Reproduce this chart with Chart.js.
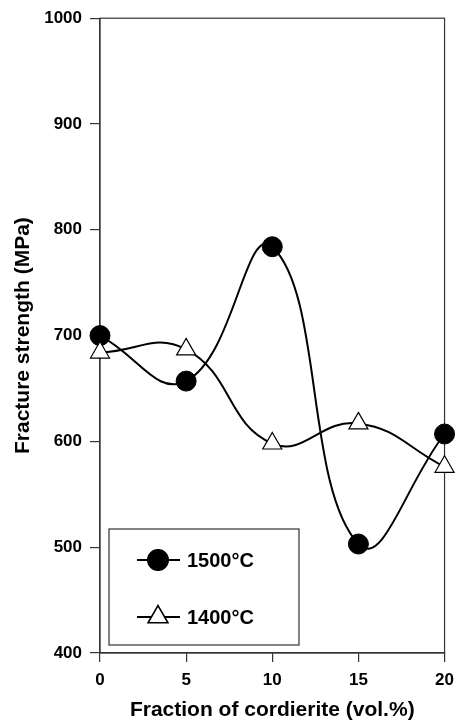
<!DOCTYPE html>
<html lang="en">
<head>
    <meta charset="UTF-8">
    <title>Fracture strength</title>
    <script src="https://cdn.jsdelivr.net/npm/chart.js"></script>
    <style>
        html, body { margin: 0; padding: 0; background: #fff; }
        .chart-container { position: relative; width: 462px; height: 725px; }
    </style>
</head>
<body>
    <div class="chart-container">
        <canvas id="myChart"></canvas>
    </div>

    <script>
        // data
        const fractions = [0, 5, 10, 15, 20];
        const strength1500 = [700, 657, 784, 503, 607];
        const strength1400 = [684, 687, 598, 617, 576];
        const seriesNames = ['1500°C', '1400°C'];

        const toPoints = (ys) => fractions.map((x, i) => ({ x: x, y: ys[i] }));
        const FONT = '"Liberation Sans", Arial, sans-serif';

        // box round the plot area (top and right edges)
        const frame = {
            id: 'frame',
            beforeDatasetsDraw(chart) {
                const { ctx, chartArea: a } = chart;
                ctx.save();
                ctx.strokeStyle = '#333';
                ctx.lineWidth = 1.2;
                ctx.strokeRect(a.left, a.top, a.right - a.left, a.bottom - a.top);
                ctx.restore();
            }
        };

        // legend box inside the plot, lower left
        const boxLegend = {
            id: 'boxLegend',
            afterDraw(chart) {
                const { ctx, chartArea: a } = chart;
                const bx = a.left + 9, by = a.bottom - 124;
                ctx.save();
                ctx.fillStyle = '#fff';
                ctx.fillRect(bx, by, 190, 116);
                ctx.strokeStyle = '#333';
                ctx.lineWidth = 1.2;
                ctx.strokeRect(bx, by, 190, 116);

                const rows = [a.bottom - 93, a.bottom - 36];
                chart.data.datasets.slice().sort((p, q) => q.order - p.order).forEach((ds, i) => {
                    const y = rows[i];
                    ctx.strokeStyle = '#000';
                    ctx.lineWidth = 2;
                    ctx.beginPath();
                    ctx.moveTo(a.left + 37, y);
                    ctx.lineTo(a.left + 80, y);
                    ctx.stroke();
                    Chart.helpers.drawPoint(ctx, {
                        pointStyle: ds.pointStyle,
                        radius: ds.pointRadius,
                        rotation: 0,
                        borderWidth: ds.pointBorderWidth
                    }, a.left + 58, y);
                    ctx.fillStyle = ds.pointBackgroundColor;
                    ctx.strokeStyle = ds.pointBorderColor;
                    ctx.lineWidth = ds.pointBorderWidth;
                    ctx.fill();
                    ctx.stroke();
                    ctx.fillStyle = '#000';
                    ctx.font = 'bold 20px ' + FONT;
                    ctx.textBaseline = 'middle';
                    ctx.textAlign = 'left';
                    ctx.fillText(ds.label, a.left + 87, y + 1);
                });
                ctx.restore();
            }
        };

        const ctx = document.getElementById('myChart').getContext('2d');
        const chart = new Chart(ctx, {
            type: 'line',
            data: {
                datasets: [{
                    label: seriesNames[0],
                    data: toPoints(strength1500),
                    order: 1,
                    borderColor: '#000',
                    borderWidth: 2,
                    tension: 0.45,
                    pointStyle: 'circle',
                    pointRadius: 10,
                    pointBackgroundColor: '#000',
                    pointBorderColor: '#000',
                    pointBorderWidth: 1
                }, {
                    label: seriesNames[1],
                    data: toPoints(strength1400),
                    order: 0,
                    borderColor: '#000',
                    borderWidth: 2,
                    tension: 0.45,
                    pointStyle: 'triangle',
                    pointRadius: 11,
                    pointBackgroundColor: '#fff',
                    pointBorderColor: '#000',
                    pointBorderWidth: 1.2
                }]
            },
            options: {
                responsive: true,
                maintainAspectRatio: false,
                animation: false,
                clip: false,
                layout: { autoPadding: false, padding: { top: 14, right: 13, left: 0, bottom: 0 } },
                plugins: {
                    legend: { display: false },
                    tooltip: { enabled: false }
                },
                scales: {
                    x: {
                        type: 'linear',
                        min: 0,
                        max: 20,
                        afterFit: (s) => { s.height = 72; },
                        ticks: {
                            stepSize: 5,
                            color: '#000',
                            padding: 8,
                            callback: (v) => String(v),
                            font: { family: FONT, size: 17, weight: 'bold' }
                        },
                        grid: { drawOnChartArea: false, tickLength: 9, color: '#333', lineWidth: 1.2 },
                        border: { color: '#333', width: 1.2 },
                        title: {
                            display: true,
                            text: 'Fraction of cordierite (vol.%)',
                            color: '#000',
                            padding: { top: 0, bottom: 2 },
                            font: { family: FONT, size: 21, weight: 'bold' }
                        }
                    },
                    y: {
                        min: 400,
                        max: 1000,
                        afterFit: (s) => { s.width = 100; },
                        ticks: {
                            stepSize: 100,
                            color: '#000',
                            padding: 8,
                            callback: (v) => String(v),
                            font: { family: FONT, size: 17, weight: 'bold' }
                        },
                        grid: { drawOnChartArea: false, tickLength: 10, color: '#333', lineWidth: 1.2 },
                        border: { color: '#333', width: 1.2 },
                        title: {
                            display: true,
                            text: 'Fracture strength (MPa)',
                            color: '#000',
                            padding: { top: 11, bottom: 0 },
                            font: { family: FONT, size: 21, weight: 'bold' }
                        }
                    }
                }
            },
            plugins: [frame, boxLegend]
        });
    </script>
</body>
</html>
